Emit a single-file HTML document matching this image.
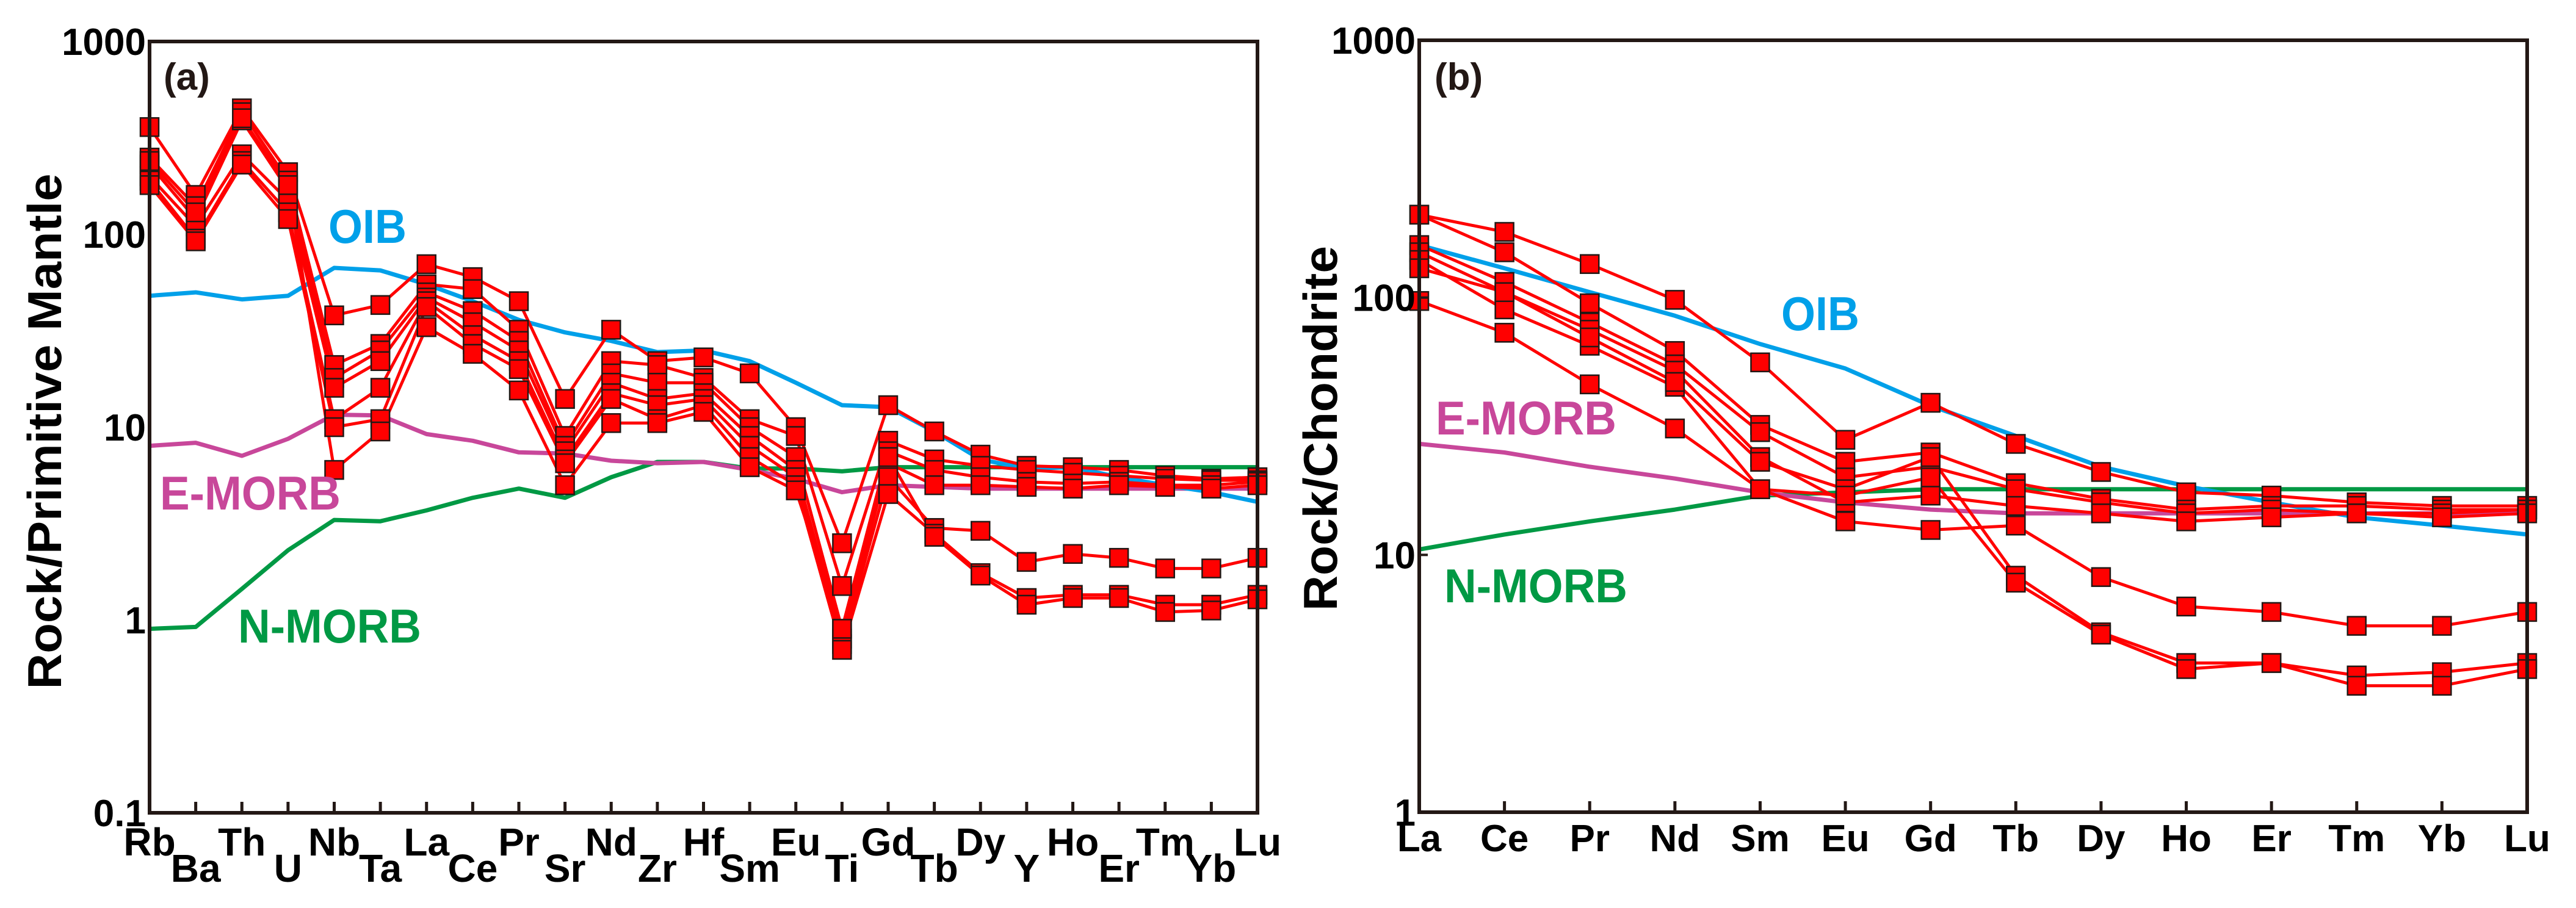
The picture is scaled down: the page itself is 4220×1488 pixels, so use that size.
<!DOCTYPE html>
<html><head><meta charset="utf-8"><style>
html,body{margin:0;padding:0;background:#fff;}
svg{display:block;font-family:"Liberation Sans",Arial,sans-serif;font-weight:bold;}
</style></head><body>
<svg id="fig" width="4220" height="1488" viewBox="0 0 4220 1488" xmlns="http://www.w3.org/2000/svg">
<rect width="4220" height="1488" fill="#fff"/>
<g id="pa"></g>
<g id="pb"></g>
</svg>
<script>
const elemsA = ["Rb","Ba","Th","U","Nb","Ta","La","Ce","Pr","Sr","Nd","Zr","Hf","Sm","Eu","Ti","Gd","Tb","Dy","Y","Ho","Er","Tm","Yb","Lu"];
const oibA  = [48,50,46,48,67,65,55,45,36,31,28,24.5,25,22,17,13,12.7,9.5,6.8,6.1,6.2,5.5,5.0,4.6,4.1];
const emorbA= [8,8.3,7.1,8.7,11.6,11.5,9.2,8.5,7.4,7.3,6.7,6.5,6.6,6.0,5.4,4.6,5.0,4.9,4.8,4.8,4.8,4.8,4.8,4.8,4.8];
const nmorbA= [0.9,0.92,1.45,2.3,3.3,3.25,3.7,4.3,4.8,4.3,5.5,6.6,6.6,6.1,6.1,5.9,6.2,6.2,6.2,6.2,6.2,6.2,6.2,6.2,6.2];
const sampleA1 = [360,160,450,210,38,43,70,60,45,14,32,22,23,19,10,2.5,13,9.5,7.2,6.3,6.2,6.0,5.6,5.4,5.5];
const sampleA2 = [250,140,430,190,21,27,55,52,32,9,22,21,18,11,9,1.5,8.5,6.8,6.3,6.0,5.8,5.6,5.4,5.3,5.3];
const sampleA3 = [230,120,390,170,18,25,50,40,28,8,19,17,17,10,7,0.9,7.5,6.0,5.5,5.2,5.1,5.2,5.0,5.0,5.2];
const sampleA4 = [200,110,260,150,16,22,47,35,25,7.5,17,14,15,9,6,0.8,6.5,5.0,5.0,4.9,4.8,5.0,4.9,4.8,5.0];
const sampleA5 = [190,95,240,130,11,16,45,30,22,6.8,15,13,14,8,5.5,0.75,5.5,3.0,2.9,2.0,2.2,2.1,1.85,1.85,2.1];
const sampleA6 = [180,92,230,120,10,11,42,27,20,6.5,14,11,13,7,5,0.7,4.5,2.8,1.75,1.3,1.35,1.35,1.2,1.2,1.35];
const sampleA7 = [240,130,400,180,6,9.5,33,24,15.5,5,10.5,10.5,12,6.2,4.7,0.9,7,2.7,1.7,1.2,1.3,1.3,1.1,1.12,1.28];
const ticksA = [1000,100,10,1,0.1];
const tickLabelsA = ["1000","100","10","1","0.1"];

const elemsB = ["La","Ce","Pr","Nd","Sm","Eu","Gd","Tb","Dy","Ho","Er","Tm","Yb","Lu"];
const oibB   = [160,130,105,85,66,53,38,29,22,18.5,16,14,13,12];
const emorbB = [27,25,22,19.8,17.5,16,15,14.5,14.5,14.5,14.5,14.5,14.5,14.5];
const nmorbB = [10.5,12,13.5,15,17,17.5,18,18,18,18,18,18,18,18];
const sampleB1 = [210,180,135,98,56,28,39,27,21,17.5,17,16,15.5,15.5];
const sampleB2 = [210,150,95,62,32,23,25,19,16.5,15,15.5,15.5,15,15];
const sampleB3 = [160,115,80,55,30,20,22,18,16,14.5,15,14.5,14.5,15];
const sampleB4 = [150,105,75,52,24,16,17,15.5,14.5,13.5,14,14.5,14,14.5];
const sampleB5 = [140,90,65,45,18,13.5,12.5,13,8.2,6.3,6.0,5.3,5.3,6.0];
const sampleB6 = [130,105,70,47,23,18,24,8.3,5.0,3.8,3.8,3.4,3.5,3.8];
const sampleB7 = [97,73,46,31,18,17,20,7.8,4.9,3.6,3.8,3.1,3.1,3.6];
const ticksB = [1000,100,10,1];
const tickLabelsB = ["1000","100","10","1"];

const NS="http://www.w3.org/2000/svg";
function mk(parent,tag,attrs,text){const e=document.createElementNS(NS,tag);for(const k in attrs)e.setAttribute(k,attrs[k]);if(text!==undefined)e.textContent=text;parent.appendChild(e);return e;}

function panel(g,cfg){
  const L=cfg.left,R=cfg.right,T=cfg.top,B=cfg.bottom;
  const n=cfg.elems.length;
  const xs=i=>L+(R-L)*i/(n-1);
  const lmax=Math.log10(cfg.ymax),lmin=Math.log10(cfg.ymin);
  const ys=v=>T+(lmax-Math.log10(v))/(lmax-lmin)*(B-T);
  const pts=arr=>arr.map((v,i)=>xs(i).toFixed(1)+","+ys(v).toFixed(1)).join(" ");
  const refs=[[cfg.nmorb,"#009944","n-morb-line"],[cfg.emorb,"#c8479a","e-morb-line"],[cfg.oib,"#00a0e9","oib-line"]];
  refs.forEach(r=>{
    const p=mk(g,"polyline",{points:pts(r[0]),fill:"none",stroke:r[1],"stroke-width":7,"stroke-linejoin":"round"});
    
    
  });
  cfg.samples.forEach((s,si)=>{
    const p=mk(g,"polyline",{points:pts(s),fill:"none",stroke:"#ff0000","stroke-width":5,"stroke-linejoin":"round"});
    
    
  });
  cfg.samples.forEach((s,si)=>{
    s.forEach((v,i)=>{
      const r=mk(g,"rect",{x:xs(i)-15,y:ys(v)-15,width:30,height:30,fill:"#ff0000",stroke:"#231815","stroke-width":2.5});
      
      
    });
  });
  const f=mk(g,"rect",{x:L,y:T,width:R-L,height:B-T,fill:"none",stroke:"#231815","stroke-width":6});
  
  
  cfg.elems.forEach((el,i)=>{
    if(i>0&&i<n-1){
      const t=mk(g,"line",{x1:xs(i),x2:xs(i),y1:B,y2:B-18,stroke:"#231815","stroke-width":5});
      
      
    }
    const yb=cfg.stagger?(i%2===0?1402:1445):1395;
    const tx=mk(g,"text",{x:xs(i),y:yb,"text-anchor":"middle","font-size":cfg.xfs,fill:"#000"},el);
    
    
  });
  cfg.ticks.forEach((v,i)=>{
    const tx=mk(g,"text",{x:L-6,y:ys(v)+22,"text-anchor":"end","font-size":62,fill:"#000"},cfg.tickLabels[i]);
    
    
    if(cfg.yticks && i>0 && i<cfg.ticks.length-1){
      const t=mk(g,"line",{x1:L,x2:L+14,y1:ys(v),y2:ys(v),stroke:"#231815","stroke-width":4});
      
      
    }
  });
  const yt=mk(g,"text",{x:0,y:0,"text-anchor":"middle","font-size":78,fill:"#000",textLength:cfg.ytLen,lengthAdjust:"spacingAndGlyphs",transform:`translate(${cfg.ytX},${cfg.ytY}) rotate(-90)`},cfg.ytitle);
  
  
  const pl=mk(g,"text",{x:cfg.letterX,y:147,"font-size":62,fill:"#231815"},cfg.letter);
  
  
  cfg.labels.forEach(lb=>{
    const tx=mk(g,"text",{x:lb[1],y:lb[2],"font-size":78,fill:lb[3],textLength:lb[4],lengthAdjust:"spacingAndGlyphs"},lb[0]);
    
    
  });
}

panel(document.getElementById("pa"),{
  left:245,right:2060,top:68,bottom:1332,ymax:1000,ymin:0.1,
  elems:elemsA,oib:oibA,emorb:emorbA,nmorb:nmorbA,
  samples:[sampleA1,sampleA2,sampleA3,sampleA4,sampleA5,sampleA6,sampleA7],
  ticks:ticksA,tickLabels:tickLabelsA,stagger:true,xfs:64,yticks:false,
  ytitle:"Rock/Primitive Mantle",ytX:100,ytY:707,ytLen:845,
  letter:"(a)",letterX:268,
  labels:[["OIB",538,398,"#00a0e9",128],["E-MORB",262,835,"#c8479a",296],["N-MORB",390,1053,"#009944",300]]
});
panel(document.getElementById("pb"),{
  left:2325,right:4140,top:66,bottom:1331,ymax:1000,ymin:1,
  elems:elemsB,oib:oibB,emorb:emorbB,nmorb:nmorbB,
  samples:[sampleB1,sampleB2,sampleB3,sampleB4,sampleB5,sampleB6,sampleB7],
  ticks:ticksB,tickLabels:tickLabelsB,stagger:false,xfs:62,yticks:true,
  ytitle:"Rock/Chondrite",ytX:2190,ytY:702,ytLen:598,
  letter:"(b)",letterX:2350,
  labels:[["OIB",2918,541,"#00a0e9",128],["E-MORB",2352,712,"#c8479a",296],["N-MORB",2366,987,"#009944",300]]
});
</script>
</body></html>
